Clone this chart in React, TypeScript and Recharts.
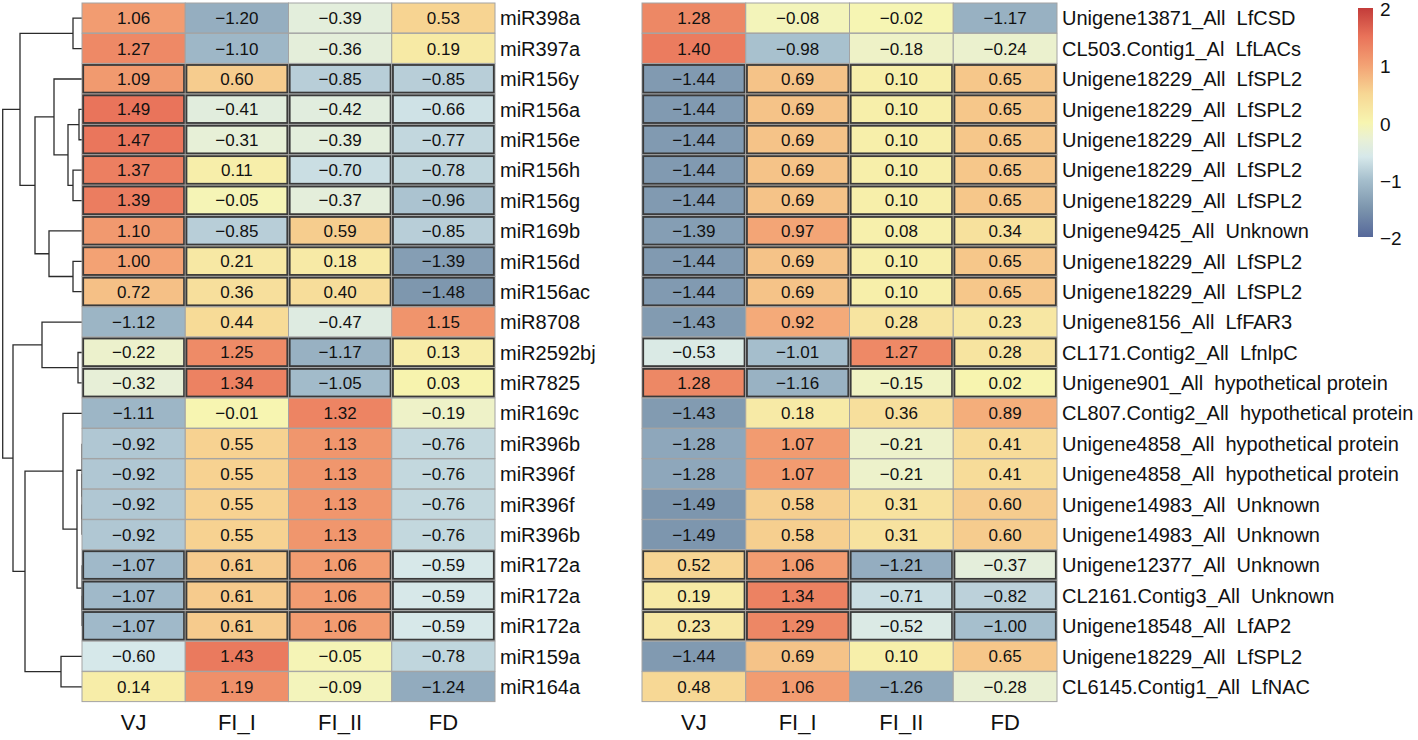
import React from "react";
import { BarChart, Bar, XAxis, YAxis, ScatterChart, Scatter } from "recharts";

const columns = ["VJ", "FI_I", "FI_II", "FD"];

// left panel: miRNAs
const mirNames = [
  "miR398a", "miR397a", "miR156y", "miR156a", "miR156e", "miR156h", "miR156g",
  "miR169b", "miR156d", "miR156ac", "miR8708", "miR2592bj", "miR7825", "miR169c",
  "miR396b", "miR396f", "miR396f", "miR396b", "miR172a", "miR172a", "miR172a",
  "miR159a", "miR164a",
];
const mirVJ = [1.06, 1.27, 1.09, 1.49, 1.47, 1.37, 1.39, 1.1, 1.0, 0.72, -1.12, -0.22, -0.32, -1.11, -0.92, -0.92, -0.92, -0.92, -1.07, -1.07, -1.07, -0.6, 0.14];
const mirFI1 = [-1.2, -1.1, 0.6, -0.41, -0.31, 0.11, -0.05, -0.85, 0.21, 0.36, 0.44, 1.25, 1.34, -0.01, 0.55, 0.55, 0.55, 0.55, 0.61, 0.61, 0.61, 1.43, 1.19];
const mirFI2 = [-0.39, -0.36, -0.85, -0.42, -0.39, -0.7, -0.37, 0.59, 0.18, 0.4, -0.47, -1.17, -1.05, 1.32, 1.13, 1.13, 1.13, 1.13, 1.06, 1.06, 1.06, -0.05, -0.09];
const mirFD = [0.53, 0.19, -0.85, -0.66, -0.77, -0.78, -0.96, -0.85, -1.39, -1.48, 1.15, 0.13, 0.03, -0.19, -0.76, -0.76, -0.76, -0.76, -0.59, -0.59, -0.59, -0.78, -1.24];

// right panel: target genes
const geneNames = [
  "Unigene13871_All  LfCSD", "CL503.Contig1_Al  LfLACs",
  "Unigene18229_All  LfSPL2", "Unigene18229_All  LfSPL2", "Unigene18229_All  LfSPL2",
  "Unigene18229_All  LfSPL2", "Unigene18229_All  LfSPL2", "Unigene9425_All  Unknown",
  "Unigene18229_All  LfSPL2", "Unigene18229_All  LfSPL2", "Unigene8156_All  LfFAR3",
  "CL171.Contig2_All  LfnlpC", "Unigene901_All  hypothetical protein",
  "CL807.Contig2_All  hypothetical protein", "Unigene4858_All  hypothetical protein",
  "Unigene4858_All  hypothetical protein", "Unigene14983_All  Unknown",
  "Unigene14983_All  Unknown", "Unigene12377_All  Unknown", "CL2161.Contig3_All  Unknown",
  "Unigene18548_All  LfAP2", "Unigene18229_All  LfSPL2", "CL6145.Contig1_All  LfNAC",
];
const geneVJ = [1.28, 1.4, -1.44, -1.44, -1.44, -1.44, -1.44, -1.39, -1.44, -1.44, -1.43, -0.53, 1.28, -1.43, -1.28, -1.28, -1.49, -1.49, 0.52, 0.19, 0.23, -1.44, 0.48];
const geneFI1 = [-0.08, -0.98, 0.69, 0.69, 0.69, 0.69, 0.69, 0.97, 0.69, 0.69, 0.92, -1.01, -1.16, 0.18, 1.07, 1.07, 0.58, 0.58, 1.06, 1.34, 1.29, 0.69, 1.06];
const geneFI2 = [-0.02, -0.18, 0.1, 0.1, 0.1, 0.1, 0.1, 0.08, 0.1, 0.1, 0.28, 1.27, -0.15, 0.36, -0.21, -0.21, 0.31, 0.31, -1.21, -0.71, -0.52, 0.1, -1.26];
const geneFD = [-1.17, -0.24, 0.65, 0.65, 0.65, 0.65, 0.65, 0.34, 0.65, 0.65, 0.23, 0.28, 0.02, 0.89, 0.41, 0.41, 0.6, 0.6, -0.37, -0.82, -1.0, 0.65, -0.28];

// rows outlined in black (miRNA / target pairs)
const boxedRows = [2, 3, 4, 5, 6, 7, 8, 9, 11, 12, 18, 19, 20];

// row dendrogram: [id, left, right, height]; numbers are row indices
const treeMerges: [string, string | number, string | number, number][] = [
  ["a", 0, 1, 0.9],
  ["f", 3, 4, 0.3],
  ["g", 5, 6, 0.9],
  ["e", "f", "g", 1.4],
  ["d", 2, "e", 2.8],
  ["i", 8, 9, 0.9],
  ["h", 7, "i", 3.3],
  ["c", "d", "h", 4.7],
  ["b", "a", "c", 6.2],
  ["l", 11, 12, 0.4],
  ["k", 10, "l", 4.0],
  ["p1", 16, 17, 0],
  ["p2", 15, "p1", 0],
  ["p3", 14, "p2", 0],
  ["q1", 19, 20, 0],
  ["q2", 18, "q1", 0],
  ["n", "p3", "q2", 0.5],
  ["m", 13, "n", 1.9],
  ["r", 21, 22, 2.1],
  ["o", "m", "r", 5.7],
  ["j", "k", "o", 6.9],
  ["root", "b", "j", 7.93],
];

const legendTicks = [2, 1, 0, -1, -2];

const colorStops: [number, number[]][] = [
  [-2, [86, 104, 154]],
  [-1.5, [124, 149, 173]],
  [-1, [166, 191, 205]],
  [-0.6, [214, 232, 234]],
  [-0.3, [232, 240, 214]],
  [0, [247, 245, 176]],
  [0.5, [247, 215, 148]],
  [1, [243, 162, 116]],
  [1.5, [233, 115, 90]],
  [2, [195, 60, 58]],
];

function colorOf(v: number) {
  const x = Math.max(-2, Math.min(2, v));
  for (let i = 0; i < colorStops.length - 1; i++) {
    const [a, ca] = colorStops[i];
    const [b, cb] = colorStops[i + 1];
    if (x >= a && x <= b) {
      const t = (x - a) / (b - a);
      const c = ca.map((k, j) => Math.round(k + (cb[j] - k) * t));
      return `rgb(${c[0]},${c[1]},${c[2]})`;
    }
  }
  return "#fff";
}

const fmt = (v: number) => v.toFixed(2).replace("-", "\u2212");

const makeRows = (names: string[], cols: number[][]) =>
  names.map((name, i) => ({ key: `r${i}`, name, v: cols.map((c) => c[i]) }));

const mirRows = makeRows(mirNames, [mirVJ, mirFI1, mirFI2, mirFD]);
const geneRows = makeRows(geneNames, [geneVJ, geneFI1, geneFI2, geneFD]);

const cellShape = (col: number) => (props: any) => {
  const { x, y, width, height, payload, index } = props;
  const value = payload.v[col];
  const boxed = boxedRows.includes(index);
  return (
    <g>
      <rect x={x} y={y} width={width} height={height} fill={colorOf(value)} stroke="#a3a3a3" strokeWidth={1} />
      {boxed && (
        <rect x={x + 1.2} y={y + 1.2} width={width - 2.4} height={height - 2.4} fill="none" stroke="#3a3a3a" strokeWidth={1.8} />
      )}
      <text x={x + width / 2} y={y + height / 2} dy="0.36em" textAnchor="middle" fontSize={17} fill="#111">
        {fmt(value)}
      </text>
    </g>
  );
};

const RowTick = (props: any) => {
  const { x, y, payload, rows } = props;
  const row = rows.find((r: any) => r.key === payload.value);
  return (
    <text x={x - 3} y={y} dy="0.36em" textAnchor="start" fontSize={20} fill="#111" style={{ whiteSpace: "pre" }}>
      {row ? row.name : ""}
    </text>
  );
};

function Heatmap({ rows, width, labelWidth }: { rows: any[]; width: number; labelWidth: number }) {
  return (
    <BarChart
      width={width}
      height={740}
      data={rows}
      layout="vertical"
      barCategoryGap={0}
      barGap={0}
      margin={{ top: 3, right: 4, left: 82, bottom: 0 }}
    >
      <XAxis
        type="number"
        domain={[0, 4]}
        ticks={[0.5, 1.5, 2.5, 3.5]}
        tickFormatter={(t: number) => columns[Math.floor(t)]}
        axisLine={false}
        tickLine={false}
        height={38}
        tickMargin={6}
        tick={{ fontSize: 22, fill: "#111" }}
      />
      <YAxis
        type="category"
        dataKey="key"
        orientation="right"
        width={labelWidth}
        axisLine={false}
        tickLine={false}
        interval={0}
        tick={<RowTick rows={rows} />}
      />
      {columns.map((c, ci) => (
        <Bar key={c} dataKey={() => 1} stackId="s" isAnimationActive={false} shape={cellShape(ci)} />
      ))}
    </BarChart>
  );
}

function buildSegments() {
  const pos: Record<string, { y: number; h: number }> = {};
  const get = (n: string | number) => (typeof n === "number" ? { y: n, h: 0 } : pos[n]);
  const segs: { h: number; y: number }[][] = [];
  treeMerges.forEach(([id, l, r, h]) => {
    const a = get(l);
    const b = get(r);
    pos[id] = { y: (a.y + b.y) / 2, h };
    segs.push([
      { h: a.h, y: a.y },
      { h, y: a.y },
      { h, y: b.y },
      { h: b.h, y: b.y },
    ]);
  });
  return segs;
}

function Dendrogram() {
  const segs = buildSegments();
  return (
    <ScatterChart width={84} height={740} margin={{ top: 3, right: 2, left: 2, bottom: 38 }}>
      <XAxis type="number" dataKey="h" domain={[0, 8]} reversed hide />
      <YAxis type="number" dataKey="y" domain={[-0.5, 22.5]} reversed hide />
      {segs.map((s, i) => (
        <Scatter
          key={i}
          data={s}
          line={{ stroke: "#2b2b2b", strokeWidth: 1.3 }}
          shape={() => <g />}
          isAnimationActive={false}
        />
      ))}
    </ScatterChart>
  );
}

export default function App() {
  const gradient = colorStops
    .slice()
    .reverse()
    .map(([v]) => `${colorOf(v)} ${((2 - v) / 4) * 100}%`)
    .join(", ");
  return (
    <div
      style={{
        position: "absolute",
        left: 0,
        top: 0,
        width: 1418,
        height: 740,
        background: "#fff",
        fontFamily: "'Liberation Sans', Arial, sans-serif",
      }}
    >
      <div style={{ position: "absolute", left: 0, top: 0 }}>
        <Dendrogram />
      </div>
      <div style={{ position: "absolute", left: 0, top: 0 }}>
        <Heatmap rows={mirRows} width={600} labelWidth={101} />
      </div>
      <div style={{ position: "absolute", left: 560, top: 0 }}>
        <Heatmap rows={geneRows} width={858} labelWidth={357} />
      </div>
      <div
        style={{
          position: "absolute",
          left: 1358,
          top: 8,
          width: 15,
          height: 229,
          background: `linear-gradient(to bottom, ${gradient})`,
        }}
      />
      {legendTicks.map((t) => (
        <div
          key={t}
          style={{
            position: "absolute",
            left: 1380,
            top: 8 + ((2 - t) / 4) * 229 - 8,
            fontSize: 19,
            lineHeight: "19px",
            color: "#111",
          }}
        >
          {t < 0 ? `\u2212${Math.abs(t)}` : t}
        </div>
      ))}
    </div>
  );
}
